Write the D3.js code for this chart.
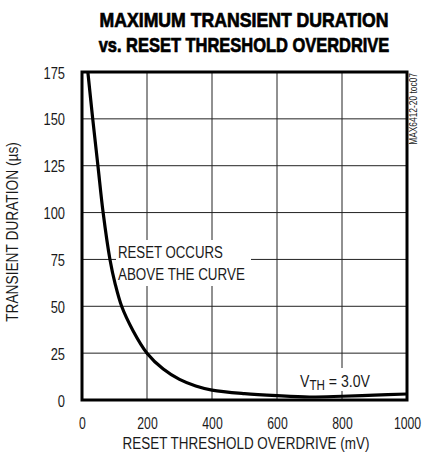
<!DOCTYPE html>
<html><head><meta charset="utf-8">
<script src="https://cdn.jsdelivr.net/npm/d3@7"></script>
<style>
body{margin:0;background:#fff;}
text{font-family:"Liberation Sans",Arial,sans-serif;fill:#1a1a1a;}
</style></head>
<body><svg id="c" width="428" height="460"></svg>
<script>
const overdrive = [18,33,49,65,86,102,122,157,200,250,300,350,400,500,600,700,800,900,1000];
const duration  = [175,150,125,100,75,62,50,37,25,16.5,11,7.5,5.3,3.4,2.3,1.6,2.0,2.6,3.2];
const xTicks = [0,200,400,600,800,1000];
const yTicks = [0,25,50,75,100,125,150,175];
const titleLines = ["MAXIMUM TRANSIENT DURATION","vs. RESET THRESHOLD OVERDRIVE"];

const svg = d3.select("#c");
const m = {l:82,t:72,r:407,b:400};
const x = d3.scaleLinear().domain([0,1000]).range([m.l,m.r]);
const y = d3.scaleLinear().domain([0,175]).range([m.b,m.t]);

// squeeze a text horizontally about its anchor x to a target width
function fit(t, target, ax, pre){
  const w = t.node().getComputedTextLength();
  const s = Math.min(1, target / w);
  t.attr("transform", (pre||"") + `translate(${ax},0) scale(${s},1) translate(${-ax},0)`);
}

// title
titleLines.forEach((d,i)=>{
  const t = svg.append("text").attr("x",244).attr("y",27+i*25).attr("text-anchor","middle")
    .style("font-weight","bold").style("font-size","20px").style("fill","#000")
    .style("stroke","#000").style("stroke-width","0.7px").text(d);
  fit(t, i?291:289, 244);
});

// grid
const g = svg.append("g");
g.selectAll("line.vx").data(xTicks.slice(1,-1)).enter().append("line")
  .attr("x1",d=>x(d)).attr("x2",d=>x(d)).attr("y1",m.t).attr("y2",m.b)
  .attr("stroke","#222").attr("stroke-width",1);
g.selectAll("line.hy").data(yTicks.slice(1,-1)).enter().append("line")
  .attr("y1",d=>y(d)).attr("y2",d=>y(d)).attr("x1",m.l).attr("x2",m.r)
  .attr("stroke","#222").attr("stroke-width",1);

// label background boxes
svg.append("rect").attr("x",116).attr("y",240).attr("width",135).attr("height",46).attr("fill","#fff");
svg.append("rect").attr("x",298).attr("y",368).attr("width",76).attr("height",23).attr("fill","#fff");

// axes tick labels
const xa = d3.axisBottom(x).tickValues(xTicks).tickFormat(d3.format("d")).tickSize(0).tickPadding(0);
const xg = svg.append("g").attr("transform",`translate(0,${m.b})`).call(xa);
xg.select(".domain").remove();
xg.selectAll("text").attr("y",29).attr("dy",0).attr("transform","scale(0.72,1)")
  .style("font-size","17px").style("fill","#1a1a1a").style("font-family","'Liberation Sans',Arial,sans-serif");
const ya = d3.axisLeft(y).tickValues(yTicks).tickFormat(d3.format("d")).tickSize(0).tickPadding(0);
const yg = svg.append("g").attr("transform",`translate(65,0)`).call(ya);
yg.select(".domain").remove();
yg.selectAll("text").attr("dy","0.36em").attr("transform","scale(0.76,1)")
  .style("font-size","17px").style("fill","#1a1a1a").style("font-family","'Liberation Sans',Arial,sans-serif");

// curve
svg.append("path").datum(overdrive.map((d,i)=>[d,duration[i]]))
  .attr("d",d3.line().x(d=>x(d[0])).y(d=>y(d[1])).curve(d3.curveCatmullRom))
  .attr("fill","none").attr("stroke","#000").attr("stroke-width",3.2);

// frame
svg.append("rect").attr("x",m.l).attr("y",m.t).attr("width",m.r-m.l).attr("height",m.b-m.t)
  .attr("fill","none").attr("stroke","#000").attr("stroke-width",3);

// annotations
fit(svg.append("text").attr("x",118).attr("y",258).style("font-size","17px").text("RESET OCCURS"),105,118);
fit(svg.append("text").attr("x",118).attr("y",280).style("font-size","17px").text("ABOVE THE CURVE"),127,118);
const vt = svg.append("text").attr("x",300).attr("y",387).style("font-size","17px");
vt.append("tspan").text("V");
vt.append("tspan").attr("dy",3).style("font-size","14px").text("TH");
vt.append("tspan").attr("dy",-3).text(" = 3.0V");
fit(vt,70,300);

// axis titles
fit(svg.append("text").attr("x",246).attr("y",449).attr("text-anchor","middle").style("font-size","17px")
  .text("RESET THRESHOLD OVERDRIVE (mV)"),247,246);
fit(svg.append("text").attr("x",0).attr("y",0).attr("text-anchor","middle")
  .style("font-size","17px").text("TRANSIENT DURATION (µs)"),180,0,"translate(18,232) rotate(-90) ");
fit(svg.append("text").attr("x",0).attr("y",0).attr("text-anchor","end")
  .style("font-size","10px").text("MAX6412-20 toc07"),72,0,"translate(417,73) rotate(-90) ");
</script></body></html>
